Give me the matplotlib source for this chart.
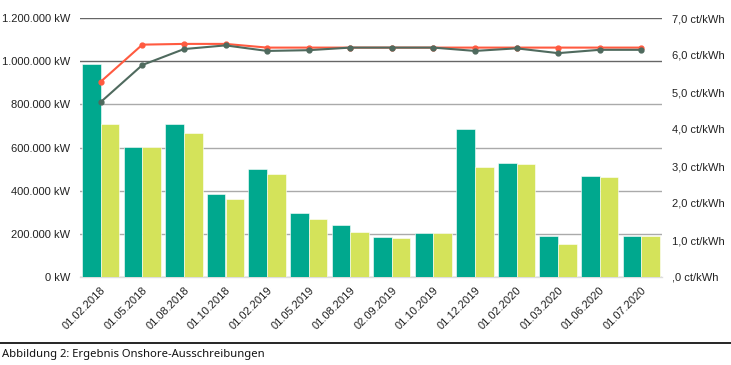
import matplotlib
matplotlib.use("Agg")
import matplotlib.pyplot as plt
import numpy as np
from matplotlib.ticker import FuncFormatter

dates = ["01.02.2018", "01.05.2018", "01.08.2018", "01.10.2018", "01.02.2019",
         "01.05.2019", "01.08.2019", "02.09.2019", "01.10.2019", "01.12.2019",
         "01.02.2020", "01.03.2020", "01.06.2020", "01.07.2020"]
bids_kw = [989000, 604000, 709000, 386000, 499000, 295000, 239000, 186000,
           204000, 685000, 527000, 191000, 467000, 191000]
awarded_kw = [709000, 604000, 666000, 363000, 476000, 270000, 208000, 179000,
              204000, 509000, 523000, 151000, 464000, 191000]
max_price = [5.28, 6.28, 6.30, 6.30, 6.20, 6.20, 6.20, 6.20, 6.20, 6.20, 6.20, 6.20, 6.20, 6.20]
avg_price = [4.73, 5.73, 6.16, 6.26, 6.11, 6.13, 6.20, 6.20, 6.20, 6.11, 6.18, 6.05, 6.14, 6.14]

W, H = 731, 365
plt.rcParams['font.family'] = ['Liberation Sans', 'DejaVu Sans']
fig = plt.figure(figsize=(W / 100, H / 100), dpi=100)

ax = fig.add_axes([80 / W, (H - 277) / H, (662 - 80) / W, (277 - 18) / H])
x = np.arange(len(dates))
bw = 0.45
dark = "#00A88E"
light = "#D4E35A"
ax.bar(x - bw / 2, bids_kw, width=bw, color=dark, edgecolor="white", linewidth=0.4, zorder=3)
ax.bar(x + bw / 2, awarded_kw, width=bw, color=light, edgecolor="white", linewidth=0.4, zorder=3)

ax.set_xlim(-0.5, len(dates) - 0.5)
ax.set_ylim(0, 1200000)
ax.set_yticks(np.arange(0, 1200001, 200000))
ax.yaxis.set_major_formatter(FuncFormatter(lambda v, p: f"{int(v):,}".replace(",", ".") + " kW"))
ax.grid(axis="y", color="#aaaaaa", linewidth=1.0, zorder=0)
for gl, v in zip(ax.get_ygridlines(), ax.get_yticks()):
    if v >= 1000000:
        gl.set_color("#666666")
ax.set_axisbelow(True)
for s in ["top", "right", "left"]:
    ax.spines[s].set_visible(False)
ax.spines["bottom"].set_color("#dddddd")
ax.spines["bottom"].set_linewidth(1.0)
ax.tick_params(axis="both", length=0, labelsize=8, colors="#222222")
ax.tick_params(axis="y", pad=7)
ax.set_xticks(x)
ax.set_xticklabels(dates, rotation=45, ha="right", rotation_mode="anchor")
ax.tick_params(axis="x", pad=6)

ax2 = ax.twinx()
ax2.set_ylim(0, 7)
ax2.set_yticks(np.arange(0, 8, 1))
ax2.yaxis.set_major_formatter(FuncFormatter(
    lambda v, p: (",0" if v == 0 else f"{v:.1f}".replace(".", ",")) + " ct/kWh"))
for s in ["top", "right", "left", "bottom"]:
    ax2.spines[s].set_visible(False)
ax2.tick_params(axis="y", length=0, labelsize=8, colors="#222222", pad=7)

ax2.plot(x, max_price, color="#FF5A40", linewidth=1.5, marker="o", markersize=3.5, zorder=4)
ax2.plot(x, avg_price, color="#4F6A5E", linewidth=1.5, marker="o", markersize=3.5, zorder=5)

fig.add_artist(plt.Line2D([0, 1], [(H - 343) / H, (H - 343) / H], color="black", linewidth=1.2))
fig.text(2 / W, (H - 355) / H, "Abbildung 2: Ergebnis Onshore-Ausschreibungen",
         fontsize=8.1, family=["Noto Sans", "DejaVu Sans"], va="center", ha="left", color="#111111")

fig.savefig("out.png", dpi=100)
